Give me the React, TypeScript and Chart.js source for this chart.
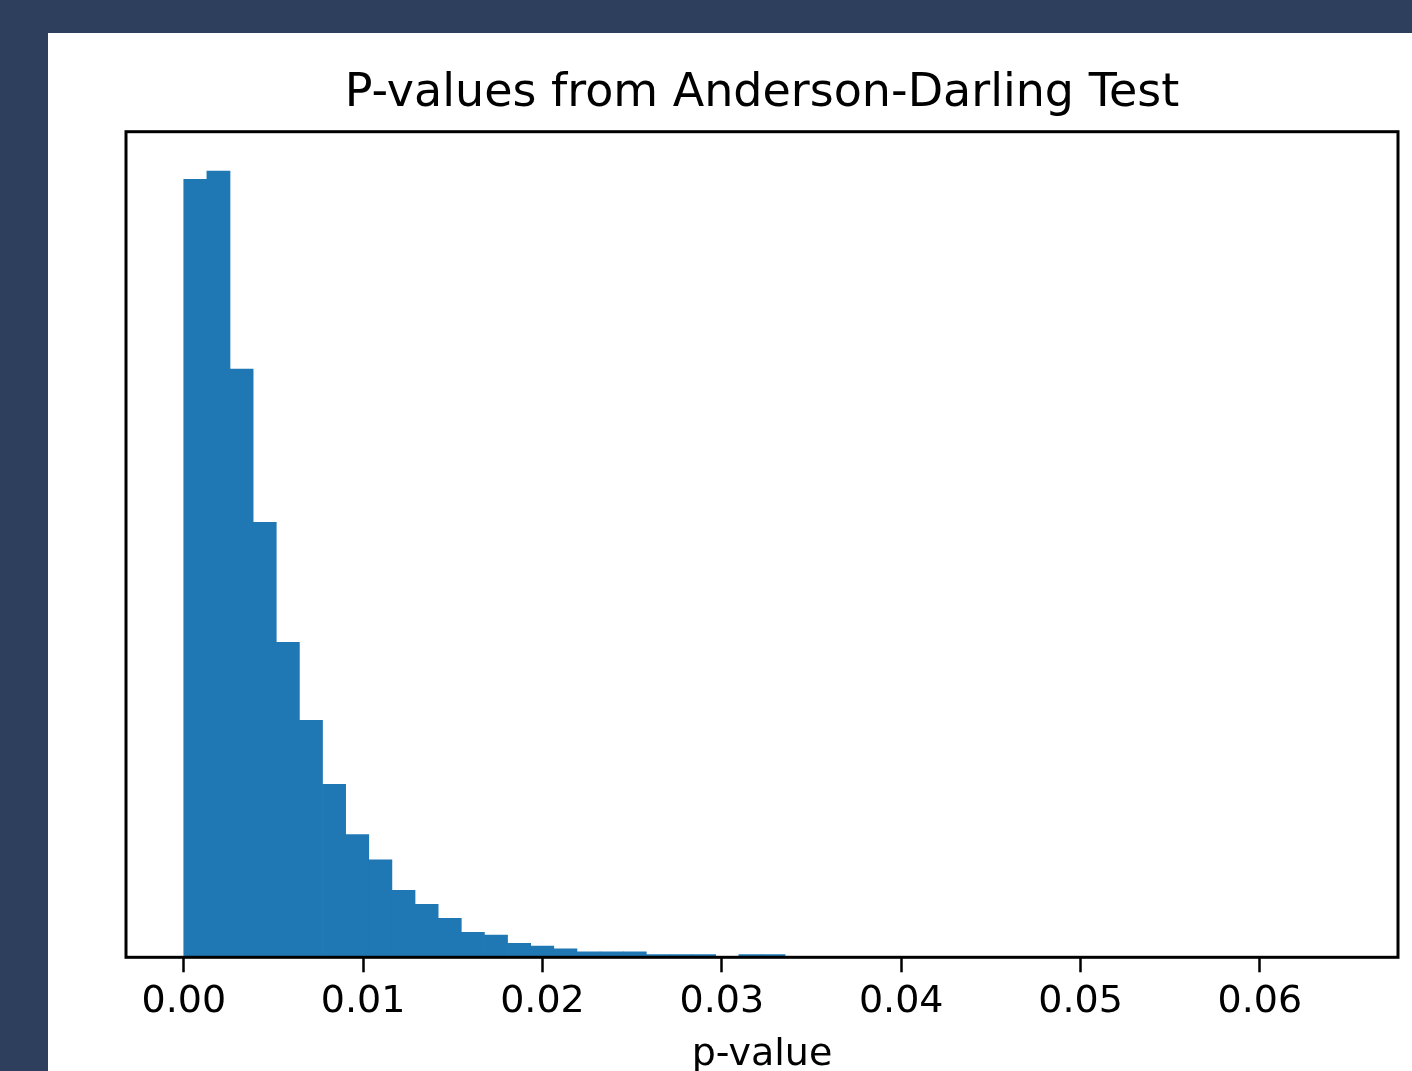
import React, { useEffect, useRef } from "react";
import { Chart, registerables } from "chart.js";

Chart.register(...registerables);

// ---- data ----
const TITLE = "P-values from Anderson-Darling Test";
const X_LABEL = "p-value";
const BIN_START = 0;
const BIN_WIDTH = 0.0012895;
const COUNTS = [
  279, 282, 211, 156, 113, 85, 62, 44, 35, 24, 19, 14, 9, 8, 5, 4, 3, 2, 2, 2,
  1, 1, 1, 0, 1, 1,
];
const X_TICKS = [0, 0.01, 0.02, 0.03, 0.04, 0.05, 0.06];
const X_TICK_LABELS = ["0.00", "0.01", "0.02", "0.03", "0.04", "0.05", "0.06"];
const X_MIN = -0.00322;
const X_MAX = 0.0677;

const W = 1364;
const H = 1038;
const AREA = { left: 78, right: 1350, top: 98.7, bottom: 924.3 };
const FONT = "'DejaVu Sans', 'Liberation Sans', sans-serif";

const framePlugin = {
  id: "frame",
  afterDraw(chart: any) {
    const { ctx, chartArea: a } = chart;
    ctx.save();
    ctx.strokeStyle = "#000";
    ctx.lineWidth = 3;
    ctx.strokeRect(a.left, a.top, a.right - a.left, a.bottom - a.top);
    ctx.restore();
  },
};

export default function App() {
  const ref = useRef<HTMLCanvasElement | null>(null);

  useEffect(() => {
    if (!ref.current) return;
    const maxCount = Math.max(...COUNTS);
    const chart = new Chart(ref.current, {
      type: "bar",
      data: {
        datasets: [
          {
            data: COUNTS.map((c, i) => ({ x: BIN_START + (i + 0.5) * BIN_WIDTH, y: c })),
            backgroundColor: "#1f77b4",
            borderWidth: 0,
            barPercentage: 1,
            categoryPercentage: 1,
          } as any,
        ],
      },
      options: {
        animation: false,
        responsive: false,
        devicePixelRatio: 1,
        layout: {
          padding: { left: AREA.left, right: W - AREA.right, top: 0, bottom: 0 },
        },
        plugins: {
          legend: { display: false },
          tooltip: { enabled: false },
          title: {
            display: true,
            text: TITLE,
            color: "#000",
            font: { family: FONT, size: 46, weight: "normal" },
            padding: { top: 33, bottom: 98.7 - 33 - 46 * 1.2 },
          },
        },
        scales: {
          x: {
            type: "linear",
            offset: false,
            min: X_MIN,
            max: X_MAX,
            afterBuildTicks: (s: any) => {
              s.ticks = X_TICKS.map((v) => ({ value: v }));
            },
            afterFit: (s: any) => {
              s.height = H - AREA.bottom;
            },
            ticks: {
              autoSkip: false,
              maxRotation: 0,
              padding: 7,
              color: "#000",
              font: { family: FONT, size: 38 },
              callback: (v: any) => {
                const i = X_TICKS.findIndex((t) => Math.abs(t - Number(v)) < 1e-9);
                return i >= 0 ? X_TICK_LABELS[i] : "";
              },
            },
            grid: {
              offset: false,
              drawOnChartArea: false,
              drawTicks: true,
              tickLength: 15,
              tickColor: "#000",
              tickWidth: 2.5,
              color: "#000",
            },
            border: { display: false },
            title: {
              display: true,
              text: X_LABEL,
              color: "#000",
              font: { family: FONT, size: 38 },
              padding: { top: 0, bottom: -7 },
            },
          },
          y: {
            display: false,
            min: 0,
            max: maxCount * 1.05,
          },
        },
      } as any,
      plugins: [framePlugin],
    });
    return () => chart.destroy();
  }, []);

  return (
    <div
      style={{
        position: "absolute",
        left: 0,
        top: 0,
        width: 1412,
        height: 1071,
        overflow: "hidden",
        background: "#2d3f5c",
      }}
    >
      <div
        style={{
          position: "absolute",
          left: 48,
          top: 33,
          width: W,
          height: H,
          background: "#ffffff",
        }}
      >
        <canvas ref={ref} width={W} height={H} style={{ display: "block", width: W, height: H }} />
      </div>
    </div>
  );
}
